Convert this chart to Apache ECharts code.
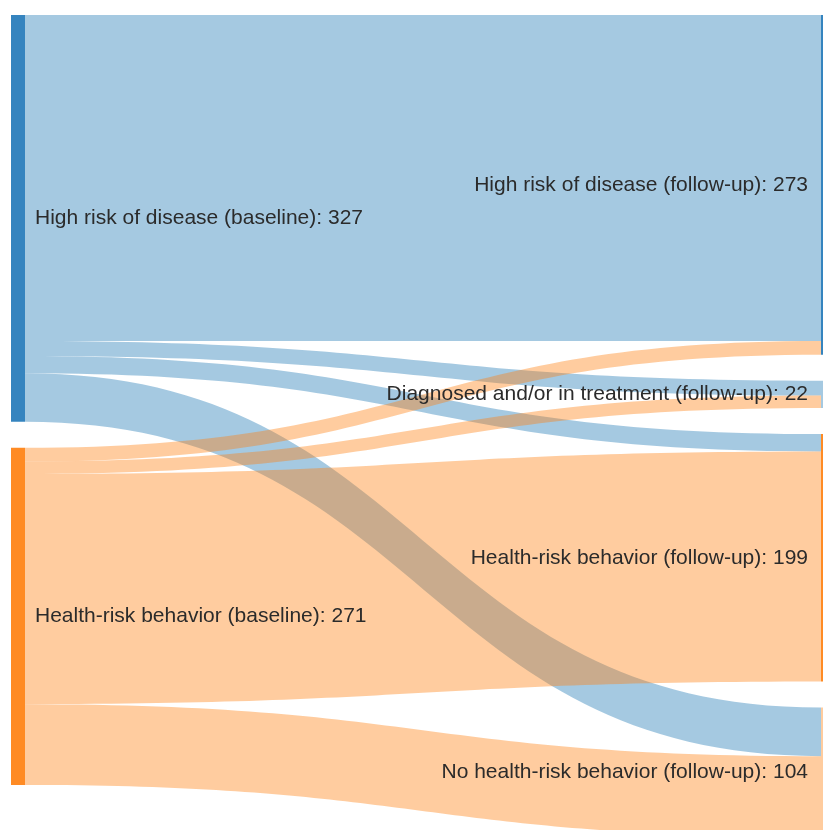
<!DOCTYPE html>
<html>
<head>
<meta charset="utf-8" />
<script type="text/javascript" src="https://cdn.jsdelivr.net/npm/echarts@6/dist/echarts.min.js"></script>
<title>Sankey</title>
<style>
  html, body { margin: 0; padding: 0; background: #fff; }
  #main { width: 823px; height: 830px; }
</style>
</head>
<body>
<div id="main"></div>
<script type="text/javascript">
// baseline groups (left) and follow-up groups (right)
var sources = ['High risk of disease (baseline)', 'Health-risk behavior (baseline)'];
var targets = ['High risk of disease (follow-up)', 'Diagnosed and/or in treatment (follow-up)',
               'Health-risk behavior (follow-up)', 'No health-risk behavior (follow-up)'];
// flows from each baseline group to the follow-up groups (same order as targets)
var fromHighRisk = [262, 12, 14, 39];
var fromBehavior = [11, 10, 185, 65];

var flows = [fromHighRisk, fromBehavior];
var srcColors = ['#3584bf', '#ff8b24'];
var linkColors = ['#1f77b4', '#ff7f0e'];
var tgtColors = ['#3584bf', '#a5c9e1', '#ff8b24', '#ffcc9e'];

var sum = function (a) { return a.reduce(function (s, v) { return s + v; }, 0); };

var nodes = [], links = [];
sources.forEach(function (name, i) {
  nodes.push({
    name: name, value: sum(flows[i]),
    itemStyle: { color: srcColors[i] },
    label: { position: 'right', distance: 10 }
  });
});
targets.forEach(function (name, j) {
  nodes.push({
    name: name, value: flows[0][j] + flows[1][j],
    itemStyle: { color: tgtColors[j] },
    label: { position: 'left', distance: 13 }
  });
});
sources.forEach(function (s, i) {
  targets.forEach(function (t, j) {
    links.push({ source: s, target: t, value: flows[i][j],
      lineStyle: { color: linkColors[i], opacity: 0.4 } });
  });
});

var myChart = echarts.init(document.getElementById('main'));
var option = {
  animation: false,
  series: [{
    type: 'sankey',
    left: 11,
    top: 15,
    width: 824,
    height: 822,
    nodeWidth: 14,
    nodeGap: 26,
    layoutIterations: 0,   // keep data order of the nodes
    draggable: false,
    emphasis: { disabled: true },
    itemStyle: { borderWidth: 0 },
    lineStyle: { curveness: 0.5 },
    label: {
      color: '#2b2b2b',
      fontSize: 21,
      fontFamily: 'Liberation Sans, Arial, sans-serif',
      formatter: '{b}: {c}'
    },
    data: nodes,
    links: links
  }]
};
myChart.setOption(option);
</script>
</body>
</html>
